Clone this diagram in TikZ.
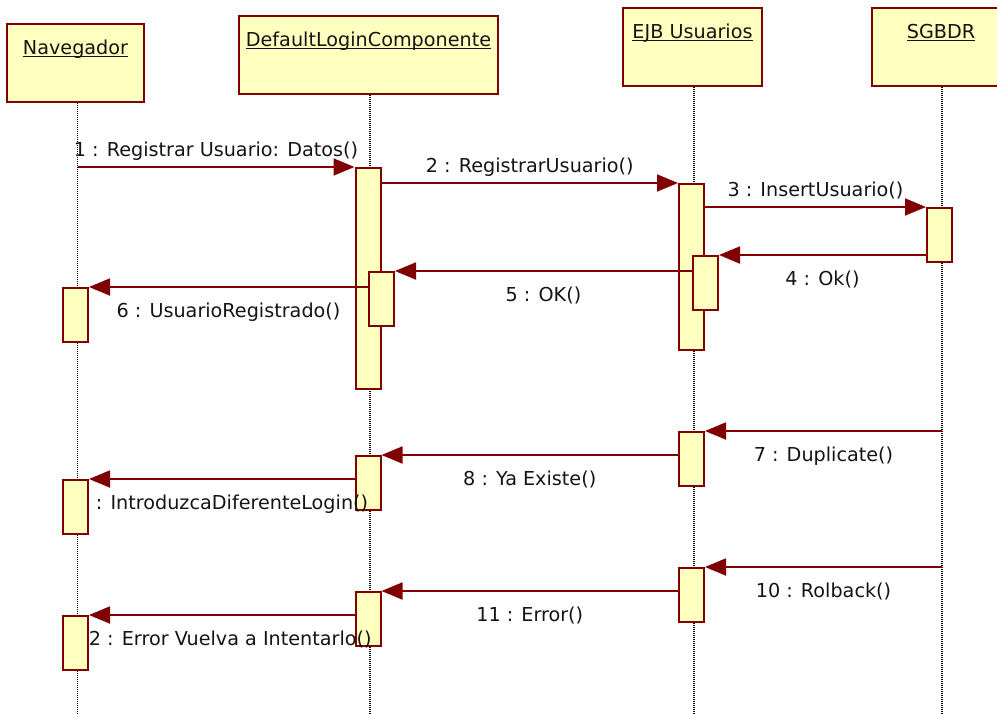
\documentclass[tikz,border=0pt]{standalone}
\usepackage{fontspec}
\setmainfont{DejaVu Sans}
\usetikzlibrary{arrows.meta}
\definecolor{umlred}{RGB}{128,0,0}
\definecolor{umlfill}{RGB}{255,255,192}
\definecolor{umltext}{RGB}{20,20,20}
% underlined object name, the rule sitting just under the baseline
\newcommand\umltitle[1]{\setbox0=\hbox{#1}\rlap{\rule[-2.6pt]{\wd0}{1.1pt}}\box0}

\begin{document}
\begin{tikzpicture}[x=0.75pt,y=-0.75pt,
  every node/.style={font=\fontsize{14.4}{17}\selectfont, text=umltext},
  head/.style={draw=umlred, fill=umlfill, line width=1.5pt, inner sep=0pt,
    anchor=north, text height=22.5pt, text depth=36pt},
  act/.style={draw=umlred, fill=umlfill, line width=1.5pt, inner sep=0pt,
    minimum width=18.75pt, anchor=north},
  lifeline/.style={line width=0.8pt, dash pattern=on 0.75pt off 0.75pt},
  msg/.style={draw=umlred, line width=1.4pt,
    -{Triangle[length=15.75pt,width=12.75pt]}},
  above label/.style={anchor=base, yshift=7.9pt},
  below label/.style={anchor=base, yshift=-22.5pt},
  left label/.style={anchor=base west, inner sep=0pt},
]
\useasboundingbox (0,0) rectangle (997,714);
\clip (0,0) rectangle (997,714);

% lifelines
\coordinate (bottom) at (0,714);
\coordinate (navL) at (77.5,101);
\coordinate (dlcL) at (370,93);
\coordinate (ejbL) at (694,85);
\coordinate (sgbL) at (942,85);
\draw[lifeline] (navL) -- (navL |- bottom);
\draw[lifeline] (dlcL) -- (dlcL |- bottom);
\draw[lifeline] (ejbL) -- (ejbL |- bottom);
\draw[lifeline] (sgbL) -- (sgbL |- bottom);

% objects
\node[head, minimum width=102.75pt] (nav) at (75.5,23) {\umltitle{Navegador}};
\node[head, minimum width=194.25pt] (dlc) at (368.5,15) {\umltitle{DefaultLoginComponente}};
\node[head, minimum width=104.25pt] (ejb) at (692.5,7) {\umltitle{EJB Usuarios}};
\node[head, minimum width=104.25pt] (sgb) at (941,7) {\umltitle{SGBDR}};

% activations
\node[act, minimum height=165.75pt] (dlc1) at (368,167) {};
\node[act, minimum height=124.5pt] (ejb1) at (691.5,183) {};
\node[act, minimum height=40.5pt] (sgb1) at (939.5,207) {};
\node[act, minimum height=40.5pt] (ejb2) at (705.5,255) {};
\node[act, minimum height=40.5pt] (dlc2) at (381.5,271) {};
\node[act, minimum height=40.5pt] (nav1) at (75.5,287) {};
\node[act, minimum height=40.5pt] (ejb3) at (691.5,431) {};
\node[act, minimum height=40.5pt] (dlc3) at (368,455) {};
\node[act, minimum height=40.5pt] (nav2) at (75.5,479) {};
\node[act, minimum height=40.5pt] (ejb4) at (691.5,567) {};
\node[act, minimum height=40.5pt] (dlc4) at (368,591) {};
\node[act, minimum height=40.5pt] (nav3) at (75.5,615) {};

% messages
\draw[msg] (navL |- dlc1.north) -- (dlc1.north west)
  node[midway, above label] (m1) {1 : Registrar Usuario: Datos()};
\draw[msg] (dlc1.east |- ejb1.north) -- (ejb1.north west)
  node[midway, above label] (m2) {2 : RegistrarUsuario()};
\draw[msg] (ejb1.east |- sgb1.north) -- (sgb1.north west)
  node[midway, above label] (m3) {3 : InsertUsuario()};
\draw[msg] (sgb1.west |- ejb2.north) -- (ejb2.north east)
  node[midway, below label] (m4) {4 : Ok()};
\draw[msg] (ejb2.west |- dlc2.north) -- (dlc2.north east)
  node[midway, below label] (m5) {5 : OK()};
\draw[msg] (dlc2.west |- nav1.north) -- (nav1.north east)
  node[midway, below label] (m6) {6 : UsuarioRegistrado()};
\draw[msg] (sgbL |- ejb3.north) -- (ejb3.north east)
  node[midway, below label] (m7) {7 : Duplicate()};
\draw[msg] (ejb3.west |- dlc3.north) -- (dlc3.north east)
  node[midway, below label] (m8) {8 : Ya Existe()};
\draw[msg] (dlc3.west |- nav2.north) -- (nav2.north east)
  node[left label] (m9) at (95,509) {: IntroduzcaDiferenteLogin()};
\draw[msg] (sgbL |- ejb4.north) -- (ejb4.north east)
  node[midway, below label] (m10) {10 : Rolback()};
\draw[msg] (ejb4.west |- dlc4.north) -- (dlc4.north east)
  node[midway, below label] (m11) {11 : Error()};
\draw[msg] (dlc4.west |- nav3.north) -- (nav3.north east)
  node[left label] (m12) at (88,645) {2 : Error Vuelva a Intentarlo()};
\end{tikzpicture}
\end{document}
